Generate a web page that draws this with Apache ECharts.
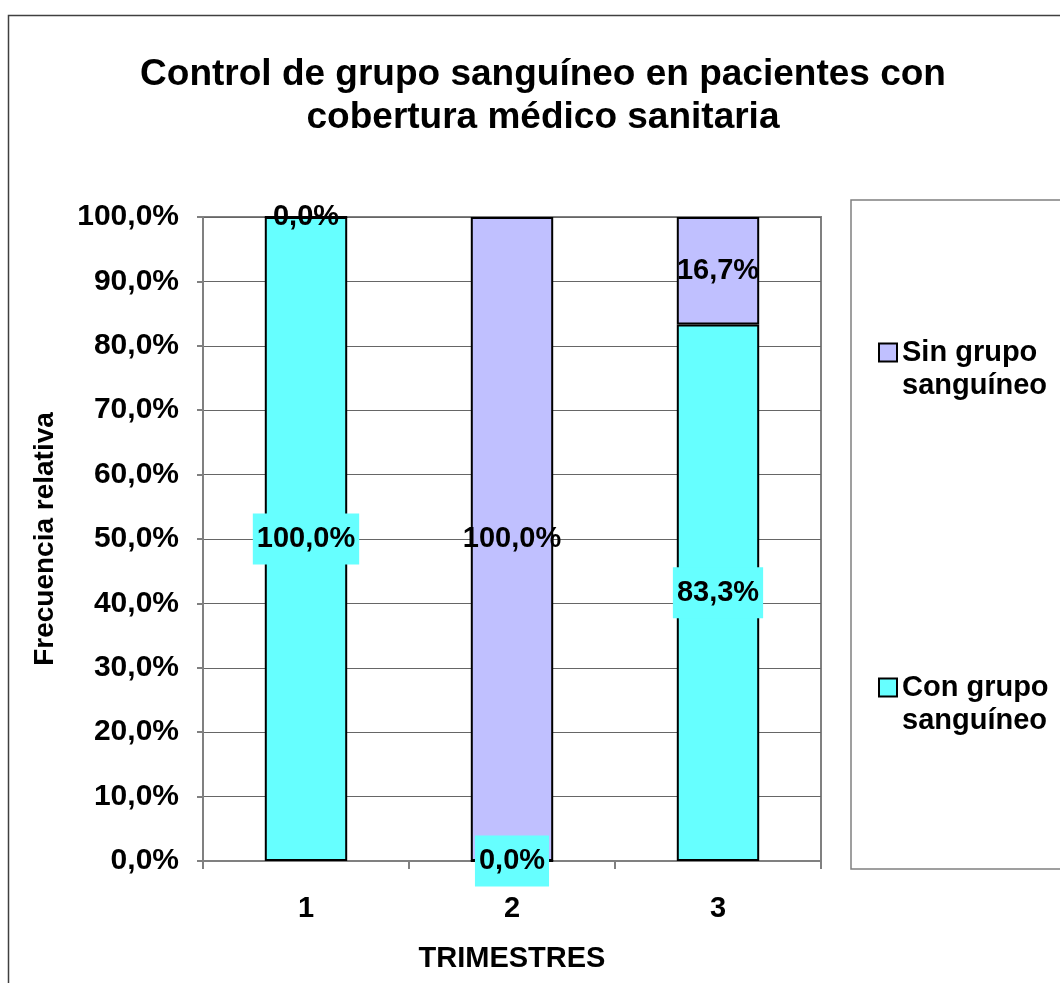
<!DOCTYPE html>
<html>
<head>
<meta charset="utf-8">
<script src="https://cdn.jsdelivr.net/npm/echarts@6/dist/echarts.min.js"></script>
<style>html,body{margin:0;padding:0;background:#fff}#c{width:1060px;height:983px}</style>
</head>
<body>
<div id="c"></div>
<script>
const categories = ['1', '2', '3'];
const conGrupo = [100.0, 0.0, 83.3];
const sinGrupo = [0.0, 100.0, 16.7];
const seriesNames = ['Con grupo sanguíneo', 'Sin grupo sanguíneo'];
const titleText = 'Control de grupo sanguíneo en pacientes con\ncobertura médico sanitaria';

const FONT = 'Arial, "Liberation Sans", sans-serif';
const fmt = v => v.toFixed(1).replace('.', ',') + '%';

const chart = echarts.init(document.getElementById('c'), null, {renderer: 'canvas'});
chart.setOption({
  animation: false,
  backgroundColor: '#fff',
  textStyle: {fontFamily: FONT},
  title: {
    text: titleText,
    left: 538, top: 48, textAlign: 'center',
    textStyle: {fontFamily: FONT, fontWeight: 'bold', fontSize: 37, lineHeight: 43, color: '#000'}
  },
  graphic: [
    {type: 'rect', shape: {x: 8.5, y: 15.5, width: 1200, height: 1200}, style: {fill: 'none', stroke: '#404040', lineWidth: 1.5}, silent: true, z: -10},
    {type: 'rect', shape: {x: 851, y: 200, width: 400, height: 669}, style: {fill: '#fff', stroke: '#808080', lineWidth: 1.5}, silent: true, z: -5}
  ],
  legend: {
    orient: 'vertical',
    left: 873, top: 298,
    data: [seriesNames[1], seriesNames[0]],
    icon: 'rect',
    itemWidth: 18, itemHeight: 18,
    itemGap: 236,
    formatter: n => '\n' + n.replace(' sanguíneo', '\nsanguíneo'),
    textStyle: {fontFamily: FONT, fontWeight: 'bold', fontSize: 29, lineHeight: 33, color: '#000'}
  },
  grid: {left: 203, right: 239, top: 217, bottom: 122, show: true, borderColor: '#808080', borderWidth: 2, backgroundColor: 'transparent'},
  xAxis: {
    type: 'category',
    data: categories,
    name: 'TRIMESTRES',
    nameLocation: 'middle',
    nameGap: 83,
    nameTextStyle: {fontFamily: FONT, fontWeight: 'bold', fontSize: 29, color: '#000'},
    axisLine: {lineStyle: {color: '#808080', width: 2}},
    axisTick: {show: true, alignWithLabel: false, length: 8, lineStyle: {color: '#808080', width: 2}},
    axisLabel: {margin: 33, fontFamily: FONT, fontWeight: 'bold', fontSize: 29, color: '#000'}
  },
  yAxis: {
    type: 'value',
    min: 0, max: 100, interval: 10,
    name: 'Frecuencia relativa',
    nameLocation: 'middle',
    nameRotate: 90,
    nameGap: 144,
    nameTextStyle: {fontFamily: FONT, fontWeight: 'bold', fontSize: 28, color: '#000'},
    axisLine: {show: true, lineStyle: {color: '#808080', width: 2}},
    axisTick: {show: true, length: 6, lineStyle: {color: '#808080', width: 2}},
    splitLine: {show: true, lineStyle: {color: '#666', width: 1}},
    axisLabel: {margin: 24, formatter: fmt, fontFamily: FONT, fontWeight: 'bold', fontSize: 30, color: '#000'}
  },
  series: [
    {
      name: seriesNames[0], type: 'bar', stack: 'total', data: conGrupo, barWidth: '40%',
      itemStyle: {color: '#66FFFF', borderColor: '#000', borderWidth: 2},
      label: {show: true, position: 'inside', formatter: p => fmt(p.value), fontFamily: FONT, fontWeight: 'bold', fontSize: 29, color: '#000',
        backgroundColor: '#66FFFF', padding: [11, 4, 11, 4]}
    },
    {
      name: seriesNames[1], type: 'bar', stack: 'total', data: sinGrupo, barWidth: '40%',
      itemStyle: {color: '#C0C0FF', borderColor: '#000', borderWidth: 2},
      label: {show: true, position: 'inside', formatter: p => fmt(p.value), fontFamily: FONT, fontWeight: 'bold', fontSize: 29, color: '#000'}
    }
  ]
});
</script>
</body>
</html>
